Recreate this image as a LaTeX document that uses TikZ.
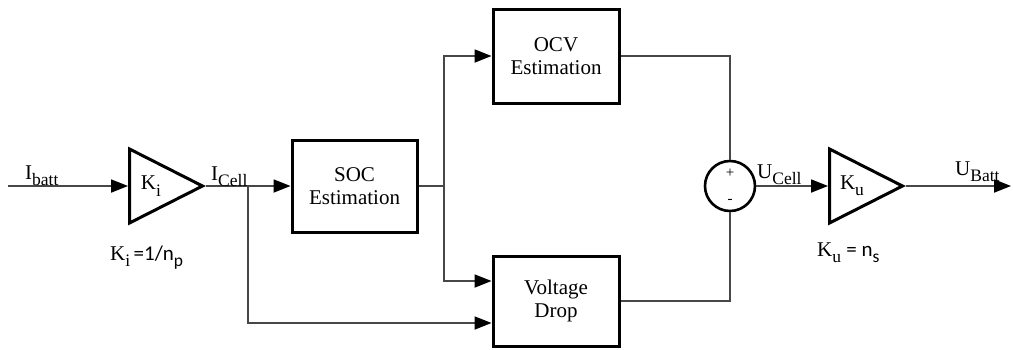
\documentclass[tikz,border=0pt]{standalone}
\usepackage{fontspec}
\setmainfont{Liberation Serif}
\newfontfamily\calib{Carlito}
\usetikzlibrary{arrows.meta,shapes.geometric}
\newcommand\lsub[1]{\raisebox{-0.3em}{\fontsize{17.5}{19}\selectfont #1}}
\begin{document}
\begin{tikzpicture}[x=1pt,y=-1pt,font=\fontsize{21}{23}\selectfont,
  blk/.style={draw=black,line width=3pt,minimum width=125pt,minimum height=92pt,align=center,inner sep=0pt},
  amp/.style={draw=black,line width=3pt,isosceles triangle,isosceles triangle stretches,shape border rotate=0,minimum width=74pt,minimum height=73pt,inner sep=0pt,anchor=west},
  sumc/.style={draw=black,line width=2.6pt,circle,minimum size=50pt,inner sep=0pt},
  wire/.style={draw=black!72,line width=1.8pt},
  arr/.style={wire,-{Triangle[length=17pt,width=13pt,color=black]}},
  lbl/.style={inner sep=0pt,anchor=base west}]
\useasboundingbox (0,0) rectangle (1013,349);
% blocks
\node[amp] (ki) at (128,186) {};
\node[inner sep=0pt] (kit) at (151,186) {K\lsub{i}};
\node[blk] (soc) at (354.5,186) {SOC\\Estimation};
\node[blk,minimum width=126pt,minimum height=94pt] (ocv) at (556,56) {OCV\\Estimation};
\node[blk,minimum width=126pt,minimum height=90pt] (vd) at (556,301) {Voltage\\Drop};
\node[sumc] (sum) at (730,186) {};
\node[font=\fontsize{15}{16}\selectfont,inner sep=0pt] (plus) at (730,173) {+};
\node[font=\fontsize{15}{16}\selectfont,inner sep=0pt] (minus) at (730,201) {-};
\node[amp] (ku) at (828,186) {};
\node[inner sep=0pt] (kut) at (852,186) {K\lsub{u}};
% coordinates
\coordinate (in) at (8,186);
\coordinate (br) at (248,186);
\coordinate (sp) at (444,186);
\coordinate (out) at (1011,186);
% wires
\draw[arr] (in) -- (ki.west);
\draw[arr] (ki.apex) -- (soc.west);
\draw[arr] (br) |- ([yshift=-22pt]vd.west);
\draw[wire] (soc.east) -- (sp);
\draw[arr] (sp) |- (ocv.west);
\draw[arr] (sp) |- ([yshift=20pt]vd.west);
\draw[wire] (ocv.east) -| (sum.north);
\draw[wire] (vd.east) -| (sum.south);
\draw[arr] (sum.east) -- (ku.west);
\draw[arr] (ku.apex) -- (out);
% labels
\node[lbl] (libatt) at (25,179) {I\lsub{batt}};
\node[lbl] (licell) at (211,180) {I\lsub{Cell}};
\node[lbl] (lucell) at (757,178) {U\lsub{Cell}};
\node[lbl] (lubatt) at (955,175) {U\lsub{Batt}};
\node[lbl] (lki) at (110,260) {K\lsub{i}\,{\calib =1/n\lsub{p}}};
\node[lbl] (lku) at (817,256) {K\lsub{u}\ {\calib = n\lsub{s}}};
\end{tikzpicture}
\end{document}
